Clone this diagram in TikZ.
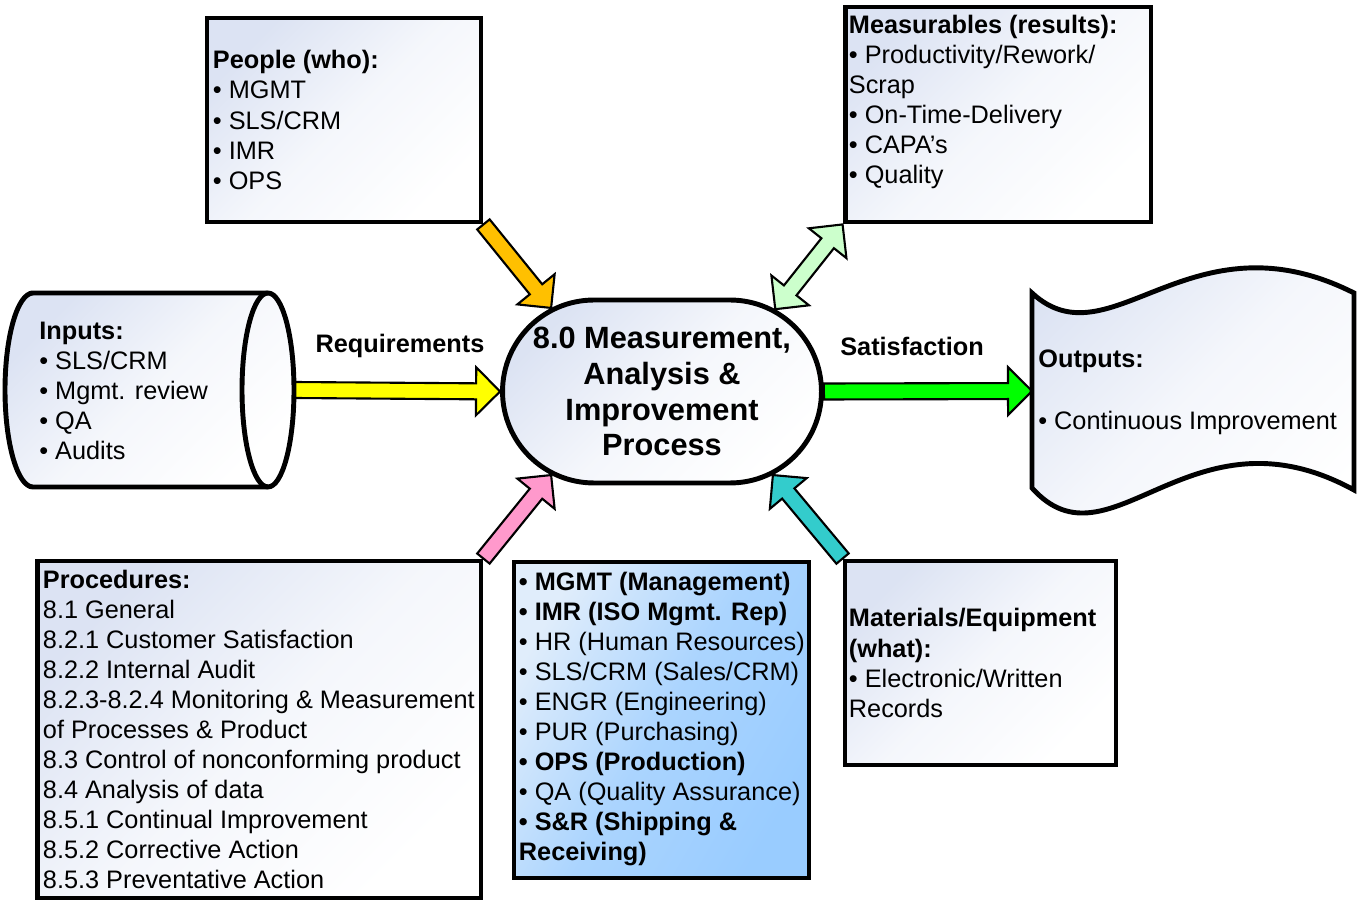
\documentclass[tikz,border=0pt]{standalone}
\usepackage{fontspec}
\setmainfont{Liberation Sans}
\usetikzlibrary{shapes.misc, calc}
\definecolor{shadeTop}{RGB}{220,227,243}
\definecolor{staffLight}{RGB}{224,237,251}
\definecolor{staffBlue}{RGB}{153,204,255}
\definecolor{arrowOrange}{RGB}{255,192,0}
\definecolor{arrowMint}{RGB}{204,255,204}
\definecolor{arrowPink}{RGB}{255,153,204}
\definecolor{arrowTeal}{RGB}{51,204,204}
\definecolor{arrowYellow}{RGB}{255,255,0}
\definecolor{arrowGreen}{RGB}{0,255,0}
\pgfdeclarelayer{bg}
\pgfsetlayers{bg,main}
\tikzset{
    frame/.style={draw=black, line width=2.8pt, top color=shadeTop, bottom color=white, middle color=shadeTop!30!white, shading angle=45},
    staffframe/.style={draw=black, line width=2.8pt, top color=staffLight, bottom color=staffBlue, middle color=staffBlue!75!staffLight, shading angle=60},
    boxtext/.style={font=\fontsize{14.4}{17.1}\selectfont, align=left, inner sep=0pt},
    corenode/.style={rounded rectangle, draw=black, line width=2.8pt, top color=shadeTop, bottom color=white, middle color=shadeTop!30!white, shading angle=45, minimum width=6.38cm, minimum height=3.66cm, inner sep=0pt, align=center, font=\bfseries\fontsize{17.5}{20.4}\selectfont},
    flowlabel/.style={font=\bfseries\fontsize{14.4}{17.1}\selectfont, inner sep=0pt},
    fatline/.style={draw=black, line width=1.2pt, line join=miter}
}
\newcommand{\arwShaft}{0.16cm}
\newcommand{\arwHead}{0.48cm}
\newcommand{\arwLen}{0.48cm}
\newcommand{\fatarrow}[3]{%
  \draw[fatline, #1] let \p1=($(#3)!\arwLen!(#2)$) in
    ($(#2)!\arwShaft!90:(#3)$) -- ($(\p1)!\arwShaft!90:(#3)$) -- ($(\p1)!\arwHead!90:(#3)$) -- (#3)
    -- ($(\p1)!\arwHead!-90:(#3)$) -- ($(\p1)!\arwShaft!-90:(#3)$) -- ($(#2)!\arwShaft!-90:(#3)$) -- cycle;}
\newcommand{\fatduplex}[3]{%
  \draw[fatline, #1] let \p1=($(#2)!\arwLen!(#3)$), \p2=($(#3)!\arwLen!(#2)$) in
    (#2) -- ($(\p1)!\arwHead!90:(#3)$) -- ($(\p1)!\arwShaft!90:(#3)$) -- ($(\p2)!\arwShaft!90:(#3)$) -- ($(\p2)!\arwHead!90:(#3)$) -- (#3)
    -- ($(\p2)!\arwHead!-90:(#3)$) -- ($(\p2)!\arwShaft!-90:(#3)$) -- ($(\p1)!\arwShaft!-90:(#3)$) -- ($(\p1)!\arwHead!-90:(#3)$) -- cycle;}

\begin{document}
\begin{tikzpicture}[x=0.02cm, y=-0.02cm]
\useasboundingbox (0,0) rectangle (1359,901);

\node[corenode] (core) at (662,391.5) {8.0 Measurement,\\Analysis \&\\Improvement\\Process};

\node[frame, minimum width=5.48cm, minimum height=4.08cm] (people) at (344,120) {};
\node[boxtext, anchor=west] (peopleText) at ($(people.west)+(8,0)$) {\textbf{People (who):}\\• MGMT\\• SLS/CRM\\• IMR\\• OPS};

\node[frame, minimum width=6.12cm, minimum height=4.3cm] (meas) at (998,114.5) {};
\node[boxtext, anchor=north west] (measText) at ($(meas.north west)+(6,10)$) {\textbf{Measurables (results):}\\• Productivity/Rework/\\Scrap\\• On-Time-Delivery\\• CAPA’s\\• Quality};

\node[frame, minimum width=8.88cm, minimum height=6.74cm] (procs) at (259,729.5) {};
\node[boxtext, anchor=west] (procsText) at ($(procs.west)+(8,0)$) {\textbf{Procedures:}\\8.1 General\\8.2.1 Customer Satisfaction\\8.2.2 Internal Audit\\8.2.3-8.2.4 Monitoring \& Measurement\\of Processes \& Product\\8.3 Control of nonconforming product\\8.4 Analysis of data\\8.5.1 Continual Improvement\\8.5.2 Corrective Action\\8.5.3 Preventative Action};

\node[staffframe, minimum width=5.9cm, minimum height=6.32cm] (staff) at (661.5,720) {};
\node[boxtext, anchor=west] (staffText) at ($(staff.west)+(7,-1)$) {\textbf{• MGMT (Management)}\\\textbf{• IMR (ISO Mgmt. Rep)}\\• HR (Human Resources)\\• SLS/CRM (Sales/CRM)\\• ENGR (Engineering)\\• PUR (Purchasing)\\\textbf{• OPS (Production)}\\• QA (Quality Assurance)\\\textbf{• S\&R (Shipping \&}\\\textbf{Receiving)}};

\node[frame, minimum width=5.42cm, minimum height=4.08cm] (mat) at (980.5,663) {};
\node[boxtext, anchor=west] (matText) at ($(mat.west)+(6,0)$) {\textbf{Materials/Equipment}\\\textbf{(what):}\\• Electronic/Written\\Records};

\draw[frame] (33,293) -- (268,293) arc[start angle=90, end angle=-90, x radius=0.52cm, y radius=1.94cm]
    -- (33,487) arc[start angle=270, end angle=90, x radius=0.56cm, y radius=1.94cm] -- cycle;
\draw[line width=2.8pt] (268,293) arc[start angle=90, end angle=270, x radius=0.52cm, y radius=1.94cm];
\coordinate (inputsEast) at (294,390);
\node[boxtext, anchor=west] (inputsText) at (39,391) {\textbf{Inputs:}\\• SLS/CRM\\• Mgmt. review\\• QA\\• Audits};

\draw[frame] (1032,293) .. controls (1110,365) and (1190,210) .. (1354,293) -- (1354,490)
    .. controls (1190,400) and (1110,575) .. (1032,488) -- cycle;
\coordinate (outputsWest) at (1032,391);
\node[boxtext, anchor=west] (outputsText) at (1038,392) {\textbf{Outputs:}\\[18pt]• Continuous Improvement};

\node[flowlabel] (reqLabel) at (400,346) {Requirements};
\node[flowlabel] (satLabel) at (912,346) {Satisfaction};

\begin{pgfonlayer}{bg}
\fatarrow{fill=arrowYellow}{inputsEast}{core.west}
\fatarrow{fill=arrowGreen}{core.east}{outputsWest}
\fatarrow{fill=arrowOrange}{people.south east}{core.143}
\fatduplex{fill=arrowMint}{meas.south west}{core.36}
\fatarrow{fill=arrowPink}{procs.north east}{core.217}
\fatarrow{fill=arrowTeal}{mat.north west}{core.-37}
\end{pgfonlayer}
\end{tikzpicture}
\end{document}
